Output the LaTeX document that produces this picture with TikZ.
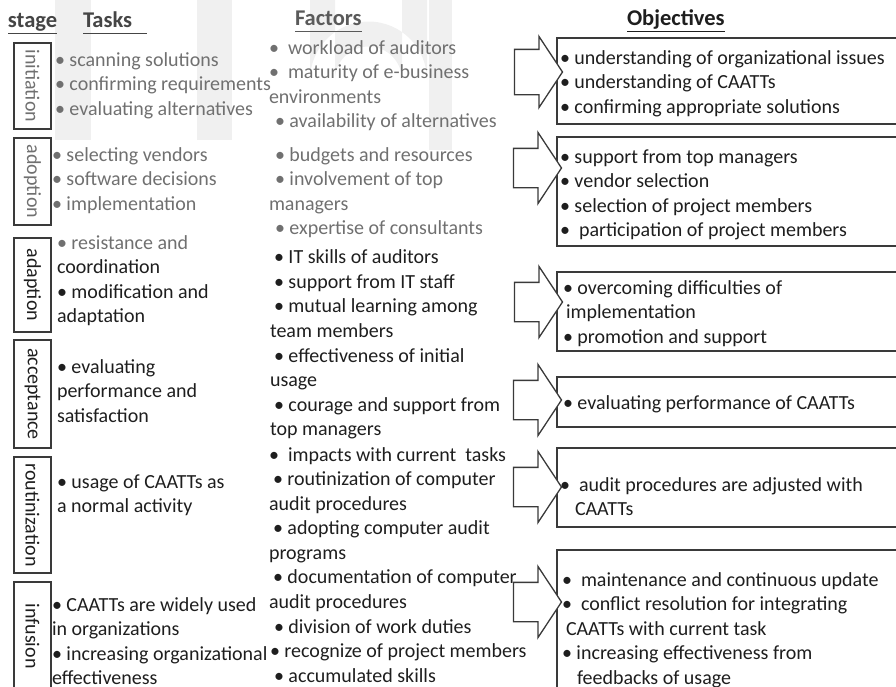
\documentclass[tikz,border=0pt]{standalone}
\usepackage{fontspec}
\setmainfont{Carlito}
\usetikzlibrary{shapes.arrows,positioning}

\definecolor{inkdark}{HTML}{1E1E1E}
\definecolor{inkgray}{HTML}{707070}
\definecolor{headgray}{HTML}{454545}
\definecolor{factgray}{HTML}{5A5A5A}
\definecolor{framegray}{HTML}{3A3A3A}
\definecolor{markgray}{HTML}{F0F0F0}

% small horizontal nudge at the start of a line
\newcommand{\ind}[1]{\hspace*{#1pt}}

\begin{document}
\begin{tikzpicture}[x=1pt, y=-1pt,
  every node/.style={inner sep=0pt, outer sep=0pt},
  % multi-line blocks are placed by the baseline of their last line
  body/.style={font=\fontsize{20}{24.5}\selectfont, align=left, anchor=base west, text=inkdark},
  faded/.style={text=inkgray},
  head/.style={font=\fontsize{22.5}{27}\selectfont\bfseries, anchor=base west},
  uline/.style={line width=1pt},
  stagebox/.style={draw=framegray, line width=1.1pt, rotate=-90, minimum height=37pt,
    font=\fontsize{20}{24}\selectfont, text=inkdark},
  objbox/.style={draw=framegray, line width=1.3pt, anchor=north west, minimum width=360pt},
  flow/.style={single arrow, draw=framegray, fill=white, line width=1.3pt,
    inner xsep=0pt, inner ysep=19pt, minimum height=48pt,
    single arrow head extend=16pt, single arrow tip angle=113}
]
  \useasboundingbox (0,0) rectangle (896,686);

  % faint letters in the background
  \fill[markgray] (55,0) rectangle (91,140);
  \fill[markgray] (197,0) rectangle (232,140);
  \fill[markgray] (310,0) -- (310,80) arc[start angle=180, end angle=360, radius=58.5]
    -- (427,0) -- (402,0) -- (402,80) arc[start angle=360, end angle=180, radius=33.5]
    -- (335,0) -- cycle;
  \fill[markgray] (429,0) rectangle (452,150);

  % column heads
  \node[head, text=headgray] (stage) at (8,27) {stage};
  \node[head, text=headgray] (tasks) at (83,27) {Tasks};
  \node[head, text=factgray] (factors) at (295,25) {Factors};
  \node[head, text=inkdark] (objectives) at (627,25) {Objectives};
  \foreach \n/\ext/\c in {stage/0/headgray, tasks/15/headgray, factors/0/factgray, objectives/0/inkdark}
    \draw[uline, \c] ([yshift=-6pt]\n.base west) -- ([xshift=\ext pt, yshift=-6pt]\n.base east);

  % stages
  \node[stagebox, minimum width=86pt, text=inkgray] (s1) at (32.5,86) {initiation};
  \node[stagebox, minimum width=87pt, text=inkgray] (s2) at (32.5,181.5) {adoption};
  \node[stagebox, minimum width=94pt] (s3) at (32.5,285) {adaption};
  \node[stagebox, minimum width=108pt] (s4) at (32.5,394) {acceptance};
  \node[stagebox, minimum width=116pt] (s5) at (32.5,515) {routinization};
  \node[stagebox, minimum width=108pt] (s6) at (32.5,636) {infusion};

  % tasks
  \node[body, faded] (t1) at (55,115) {• scanning solutions\\• confirming requirements\\• evaluating alternatives};
  \node[body, faded] (t2) at (52,210) {• selecting vendors\\• software decisions\\• implementation};
  \node[body] (t3) at (57,322.5) {\textcolor{inkgray}{• resistance and}\\coordination\\• modification and\\adaptation};
  \node[body] (t4) at (57,422) {• evaluating\\performance and\\satisfaction};
  \node[body] (t5) at (57,512.5) {• usage of CAATTs as\\a normal activity};
  \node[body] (t6) at (52,684.5) {• CAATTs are widely used\\in organizations\\• increasing organizational\\effectiveness};

  % factors
  \node[body, faded] (f1) at (269,127.5) {•\ \ workload of auditors\\•\ \ maturity of e-business\\environments\\\ind{6}• availability of alternatives};
  \node[body, faded] (f2) at (269,234.5) {\ind{6}• budgets and resources\\\ind{6}• involvement of top\\managers\\\ind{6}• expertise of consultants};
  \node[body] (f3) at (270,337) {\ind{4}• IT skills of auditors\\\ind{4}• support from IT staff\\\ind{4}• mutual learning among\\team members};
  \node[body] (f4) at (270,435.5) {\ind{4}• effectiveness of initial\\usage\\\ind{4}• courage and support from\\top managers};
  \node[body] (f5) at (269,608) {•\ \ impacts with current\ \ tasks\\\ind{4}• routinization of computer\\audit procedures\\\ind{4}• adopting computer audit\\programs\\\ind{4}• documentation of computer\\audit procedures};
  \node[body] (f6) at (270,682) {\ind{4}• division of work duties\\• recognize of project members\\\ind{4}• accumulated skills};

  % objectives
  \node[objbox, minimum height=86pt] (o1) at (557,38) {};
  \node[objbox, minimum height=109pt] (o2) at (557,137) {};
  \node[objbox, minimum height=79pt] (o3) at (557,272) {};
  \node[objbox, minimum height=50pt] (o4) at (557,377) {};
  \node[objbox, minimum height=79pt] (o5) at (557,448) {};
  \node[objbox, minimum height=150pt] (o6) at (557,550) {};

  \node[body] (g1) at (560,113) {• understanding of organizational issues\\• understanding of CAATTs\\• confirming appropriate solutions};
  \node[body] (g2) at (560,236.5) {• support from top managers\\• vendor selection\\• selection of project members\\•\ \ participation of project members};
  \node[body] (g3) at (566,343) {\ind{-3}• overcoming difficulties of\\implementation\\\ind{-3}• promotion and support};
  \node[body] (g4) at (563,409) {• evaluating performance of CAATTs};
  \node[body] (g5) at (560,515.5) {•\ \ audit procedures are adjusted with\\\ind{15}CAATTs};
  \node[body] (g6) at (566,684) {\ind{-4}•\ \ maintenance and continuous update\\\ind{-4}•\ \ conflict resolution for integrating\\CAATTs with current task\\\ind{-4}• increasing effectiveness from\\\ind{11}feedbacks of usage};

  % arrows into the objectives
  \node[flow, inner ysep=22pt, single arrow head extend=13pt] (a1) at (531,72) {};
  \node[flow] (a2) at (531,168) {};
  \node[flow] (a3) at (532,302) {};
  \node[flow] (a4) at (531,400) {};
  \node[flow] (a5) at (531,487) {};
  \node[flow] (a6) at (531,602) {};
\end{tikzpicture}
\end{document}
